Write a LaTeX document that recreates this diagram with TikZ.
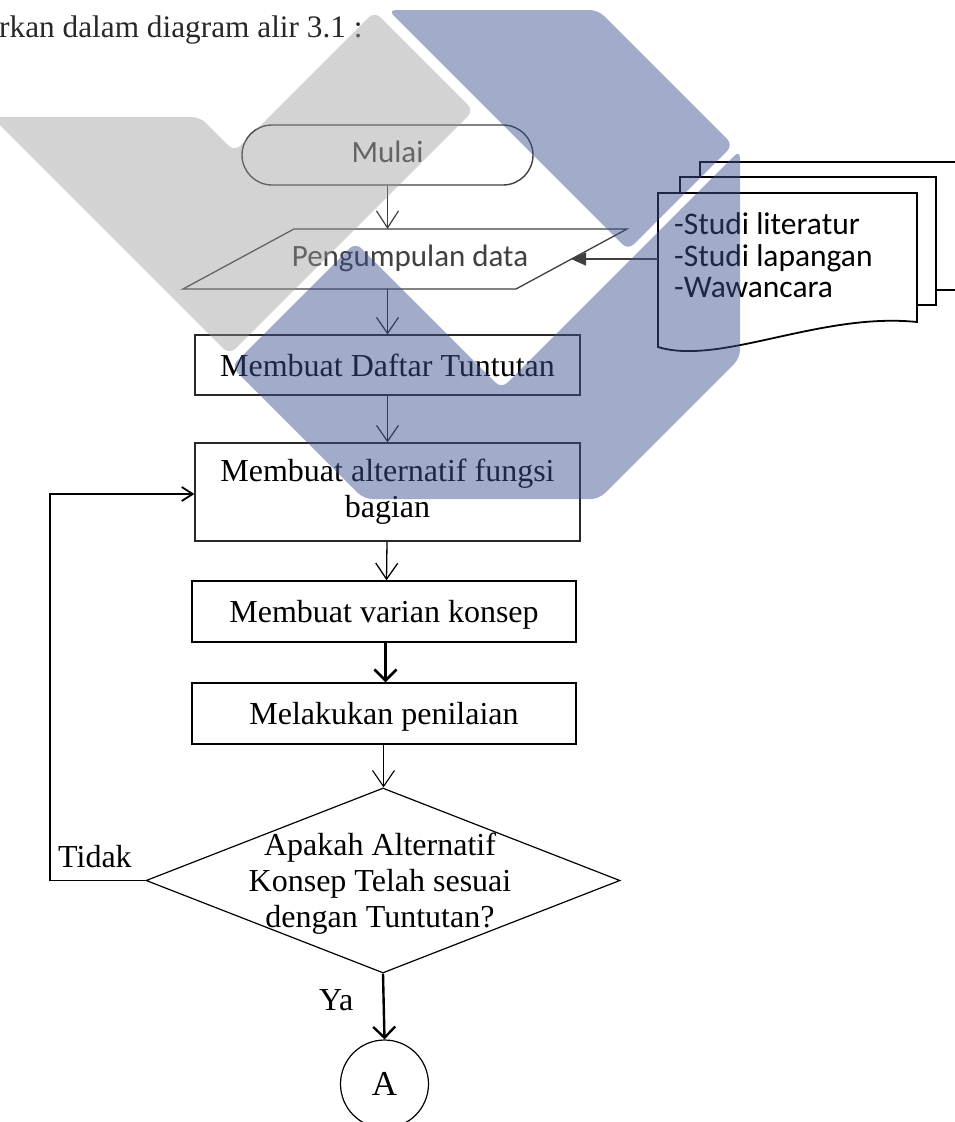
\documentclass[tikz,border=0pt]{standalone}
\usepackage{fontspec}
\setmainfont{Liberation Serif}
\newfontfamily\calibri{Carlito}
\usetikzlibrary{arrows.meta,shapes.geometric}
\definecolor{inkgray}{RGB}{64,64,64}
\definecolor{inkdark}{RGB}{40,40,40}
\definecolor{wmgray}{RGB}{152,152,152}
\definecolor{wmblue}{RGB}{62,83,146}
\begin{document}
\begin{tikzpicture}[x=1pt,y=-1pt,
  serif/.style={font=\fontsize{32}{36}\selectfont},
  sans/.style={font=\calibri\fontsize{31}{36}\selectfont},
  terminal/.style={draw=inkgray, line width=1.4pt, rounded corners=30pt,
    minimum width=291pt, minimum height=60pt, inner sep=0pt, text=inkgray, sans,
    text height=14pt, text depth=0pt},
  procbox/.style={draw=inkdark, line width=1.2pt, minimum width=385pt,
    inner sep=0pt, serif},
  onebox/.style={procbox, minimum height=60pt, text height=22pt, text depth=0pt},
  decision/.style={draw=black, line width=1.2pt, shape=diamond,
    minimum width=474pt, minimum height=185pt, inner sep=0pt},
  flowgray/.style={draw=inkgray, line width=1.2pt,
    -{Straight Barb[length=17pt,width=22pt]}},
  flow/.style={draw=black, line width=1.3pt,
    -{Straight Barb[length=16pt,width=22pt]}},
  flowthick/.style={draw=black, line width=2.6pt,
    -{Straight Barb[length=11pt,width=22pt]}},
  docline/.style={draw=black, line width=1.8pt, fill=white},
  doctext/.style={font=\calibri\fontsize{31.5}{32}\selectfont, anchor=base west, inner sep=0pt},
  wmark/.style={rounded corners=8pt}
]
\useasboundingbox (0,0) rectangle (954,1122);
\fill[white] (0,0) rectangle (954,1122);

% running text above the chart
\node[anchor=base west, inner sep=0pt, text=inkdark,
  font=\fontsize{31.3}{36}\selectfont] (head) at (-1,37) {rkan dalam diagram alir 3.1 :};

% start terminal
\node[terminal] (start) at (387.5,155) {Mulai};

% data input (parallelogram)
\coordinate (pTL) at (294,229);
\coordinate (pTR) at (627,229);
\coordinate (pBR) at (516,289);
\coordinate (pBL) at (183,289);
\draw[inkgray, line width=1.3pt] (pTL) -- (pTR) -- (pBR) -- (pBL) -- cycle;
\node[sans, text=inkgray, anchor=base, inner sep=0pt] (input) at (410,266) {Pengumpulan data};
\coordinate (pTop) at (387.5,229);
\coordinate (pBot) at (387.5,289);
\coordinate (pRight) at (571,259);

% stacked documents
\draw[docline] (700,290) -- (700,162) -- (975,162) -- (975,290) -- cycle;
\draw[docline] (680,177) rectangle (936,305);
\draw[docline] (658,193) -- (917,193) -- (917,322)
  .. controls (820,312) and (720,366) .. (658,347) -- cycle;
\coordinate (docL) at (658,259);
\node[doctext] (srcA) at (674,234) {-Studi literatur};
\node[doctext] (srcB) at (674,266) {-Studi lapangan};
\node[doctext] (srcC) at (674,297) {-Wawancara};

% process steps
\node[onebox] (daftar) at (387.5,365) {Membuat Daftar Tuntutan};
\node[procbox, minimum height=98pt, align=center] (alt) at (387.5,492)
  {Membuat alternatif fungsi\\bagian};
\node[onebox, draw=black, line width=1.4pt, minimum width=384pt, minimum height=61pt]
  (varian) at (384,611.5) {Membuat varian konsep};
\node[onebox, draw=black, line width=1.4pt, minimum width=384pt, minimum height=61pt]
  (nilai) at (384,713.5) {Melakukan penilaian};

% decision
\node[decision] (cek) at (383,880.5) {};
\node[serif, align=center, inner sep=0pt] (cektext) at (380,883.5)
  {Apakah Alternatif\\Konsep Telah sesuai\\dengan Tuntutan?};

% off-page connector
\node[draw=black, line width=1.2pt, circle, minimum size=88pt, inner sep=0pt,
  font=\fontsize{35}{40}\selectfont] (conA) at (384.5,1084) {A};

% labels
\node[serif, anchor=base west, inner sep=0pt] (tidak) at (58,867) {Tidak};
\node[serif, anchor=base west, inner sep=0pt] (ya) at (319,1010) {Ya};

% connectors
\draw[flowgray] (start.south) -- (pTop);
\draw[flow, draw=inkdark, line width=1.2pt] (pBot) -- (daftar.north);
\draw[draw=inkgray, line width=1.4pt, -{Triangle[length=15pt,width=13pt]}] (docL) -- (pRight);
\draw[flow, draw=inkdark, line width=1.2pt] (daftar.south) -- (alt.north);
\draw[flow] ([xshift=-0.5pt]alt.south) -- ([xshift=2.5pt]varian.north);
\draw[flowthick] ([xshift=1.5pt]varian.south) -- ([xshift=1.5pt]nilai.north);
\draw[flow, line width=1.1pt] ([xshift=-0.5pt]nilai.south) -- ([xshift=0.5pt]cek.north);
\draw[flowthick, line width=2.4pt] (cek.south) -- (conA.north);
\coordinate (loopx) at (50,880.5);
\draw[line width=1.8pt, -{Straight Barb[length=11pt,width=14pt]}]
  (cek.west) -- (loopx) |- ([yshift=-2pt]alt.west);

% watermark
\fill[wmgray, opacity=0.42, wmark]
  (-8,117) -- (200,117) -- (234.5,151.5) -- (374.5,11.5) -- (473.5,110.5)
  -- (229.5,354.5) -- cycle;
\fill[wmblue, opacity=0.48, wmark]
  (388,10) -- (598,10) -- (733,145) -- (628,250) -- cycle;
\fill[wmblue, opacity=0.48, wmark]
  (231.5,366.5) -- (355.5,242.5) -- (501.5,388.5) -- (740,150) -- (740,358)
  -- (599,499) -- (364,499) -- cycle;
\end{tikzpicture}
\end{document}
